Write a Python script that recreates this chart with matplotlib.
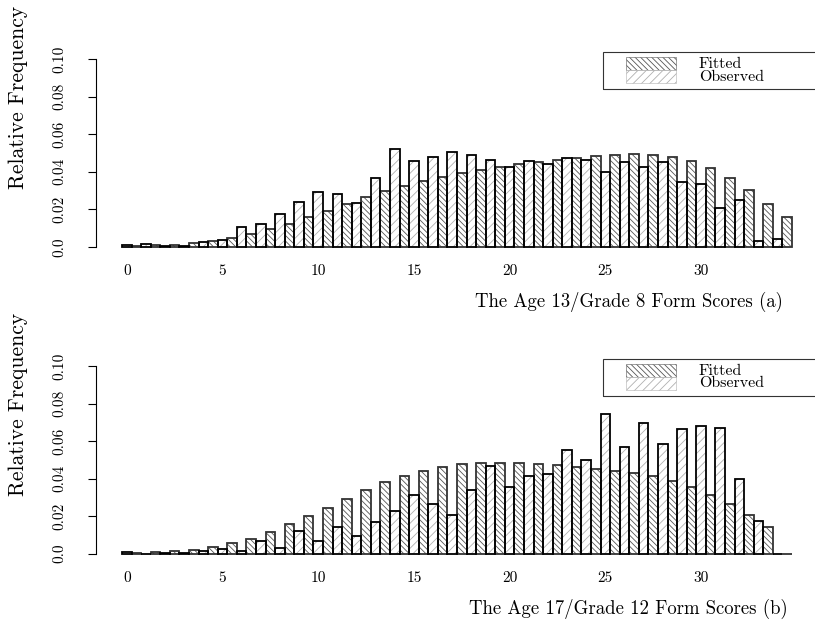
import matplotlib
matplotlib.use("Agg")
import matplotlib.pyplot as plt
from matplotlib.patches import Rectangle
import numpy as np

plt.rcParams['font.family'] = 'cmr10'
plt.rcParams['axes.formatter.use_mathtext'] = True
plt.rcParams['hatch.linewidth'] = 0.6

scores = list(range(35))
tick_scores = [0, 5, 10, 15, 20, 25, 30]
ytick_vals = [0.0, 0.02, 0.04, 0.06, 0.08, 0.10]
ytick_labels = ["0.0", "0.02", "0.04", "0.06", "0.08", "0.10"]

# panel (a): Age 13 / Grade 8
obs_a = [0.0007, 0.0016, 0.0002, 0.0002, 0.0023, 0.0034, 0.0103, 0.0119, 0.0174,
         0.0240, 0.0290, 0.0279, 0.0231, 0.0368, 0.0519, 0.0455, 0.0480, 0.0503,
         0.0487, 0.0464, 0.0423, 0.0455, 0.0439, 0.0471, 0.0462, 0.0400, 0.0450,
         0.0423, 0.0450, 0.0343, 0.0334, 0.0208, 0.0247, 0.0028, 0.0039]
fit_a = [0.0002, 0.0007, 0.0010, 0.0018, 0.0028, 0.0046, 0.0066, 0.0092, 0.0123,
         0.0158, 0.0192, 0.0226, 0.0263, 0.0297, 0.0322, 0.0350, 0.0370, 0.0393,
         0.0407, 0.0423, 0.0439, 0.0450, 0.0460, 0.0472, 0.0482, 0.0491, 0.0492,
         0.0491, 0.0476, 0.0455, 0.0418, 0.0364, 0.0300, 0.0229, 0.0158]

# panel (b): Age 17 / Grade 12
obs_b = [0.0007, 0.0000, 0.0001, 0.0001, 0.0016, 0.0023, 0.0016, 0.0066, 0.0032,
         0.0118, 0.0066, 0.0144, 0.0091, 0.0169, 0.0228, 0.0312, 0.0262, 0.0203,
         0.0337, 0.0465, 0.0353, 0.0415, 0.0422, 0.0551, 0.0499, 0.0745, 0.0567,
         0.0695, 0.0583, 0.0663, 0.0679, 0.0672, 0.0396, 0.0176, 0.0000]
fit_b = [0.0005, 0.0007, 0.0014, 0.0021, 0.0037, 0.0057, 0.0080, 0.0114, 0.0155,
         0.0200, 0.0242, 0.0289, 0.0337, 0.0380, 0.0414, 0.0442, 0.0463, 0.0476,
         0.0483, 0.0485, 0.0481, 0.0476, 0.0471, 0.0460, 0.0449, 0.0440, 0.0428,
         0.0412, 0.0385, 0.0355, 0.0314, 0.0264, 0.0205, 0.0144, 0.0000]

W, H = 815, 623
fig = plt.figure(figsize=(W / 100, H / 100), dpi=100)


def fx(px):
    return px / W


def fy(py):
    return 1 - py / H


# bars: 70 adjacent bars, first left edge at pixel 122, width 9.571 px
bar_px = 9.571
x_left_px, x_right_px = 95.7, 800


def panel(base_px, top_px, obs, fit, xlabel):
    ax = fig.add_axes([fx(x_left_px), fy(base_px), fx(x_right_px) - fx(x_left_px),
                       (base_px - top_px) / H])
    ax.set_xlim((x_left_px - 122) / bar_px, (x_right_px - 122) / bar_px)
    ax.set_ylim(0, 0.10)
    s = np.array(scores)
    x_obs = 2 * s
    x_fit = 2 * s + 1
    # hatch layer
    ax.bar(x_fit, fit, width=1, align='edge', facecolor='white', edgecolor='#555555',
           hatch='\\\\\\\\\\\\', linewidth=0, clip_on=False)
    ax.bar(x_obs, obs, width=1, align='edge', facecolor='white', edgecolor='#b0b0b0',
           hatch='////', linewidth=0, clip_on=False)
    # outlines
    ax.bar(x_fit, fit, width=1, align='edge', fill=False, edgecolor='#333333',
           linewidth=1.3, clip_on=False)
    ax.bar(x_obs, obs, width=1, align='edge', fill=False, edgecolor='black',
           linewidth=1.3, clip_on=False)

    for sp in ['top', 'right', 'bottom']:
        ax.spines[sp].set_visible(False)
    ax.spines['left'].set_bounds(0, 0.10)
    ax.spines['left'].set_linewidth(0.8)
    ax.set_yticks(ytick_vals, ytick_labels)
    ax.tick_params(axis='y', length=5.8, width=0.8, pad=15, labelsize=11,
                   labelrotation=90)
    for lab in ax.get_yticklabels():
        lab.set_va('center')
    ax.set_xticks([2 * t + 0.5 for t in tick_scores], [str(t) for t in tick_scores])
    ax.tick_params(axis='x', length=0, pad=13, labelsize=11)

    # axis titles
    fig.text(fx(18), fy(base_px - 149), "Relative Frequency", rotation=90,
             ha='center', va='center', fontsize=15.5)
    fig.text(fx(628.5), fy(base_px + 55), xlabel, ha='center', va='center',
             fontsize=13.5)

    # legend box (runs off the right edge)
    off = base_px - 246.7
    box = Rectangle((fx(602.7), fy(89.3 + off)), fx(240), (89.3 - 52.3) / H,
                    transform=fig.transFigure, fill=False, edgecolor='#333333',
                    linewidth=0.8, clip_on=False)
    fig.add_artist(box)
    p1 = Rectangle((fx(626), fy(70 + off)), fx(50), 13 / H, transform=fig.transFigure,
                   facecolor='white', edgecolor='#555555', hatch='\\\\\\\\\\\\',
                   linewidth=0.4)
    p2 = Rectangle((fx(626), fy(83 + off)), fx(50), 13 / H, transform=fig.transFigure,
                   facecolor='white', edgecolor='#b0b0b0', hatch='////', linewidth=0.4)
    fig.add_artist(p1)
    fig.add_artist(p2)
    fig.text(fx(699), fy(64.5 + off), "Fitted", ha='left', va='center', fontsize=11.5)
    fig.text(fx(699), fy(76.7 + off), "Observed", ha='left', va='center', fontsize=11.5)
    return ax


panel(246.7, 59.3, obs_a, fit_a, "The Age 13/Grade 8 Form Scores (a)")
panel(553.5, 366.0, obs_b, fit_b, "The Age 17/Grade 12 Form Scores (b)")

fig.savefig("out.png", dpi=100)
